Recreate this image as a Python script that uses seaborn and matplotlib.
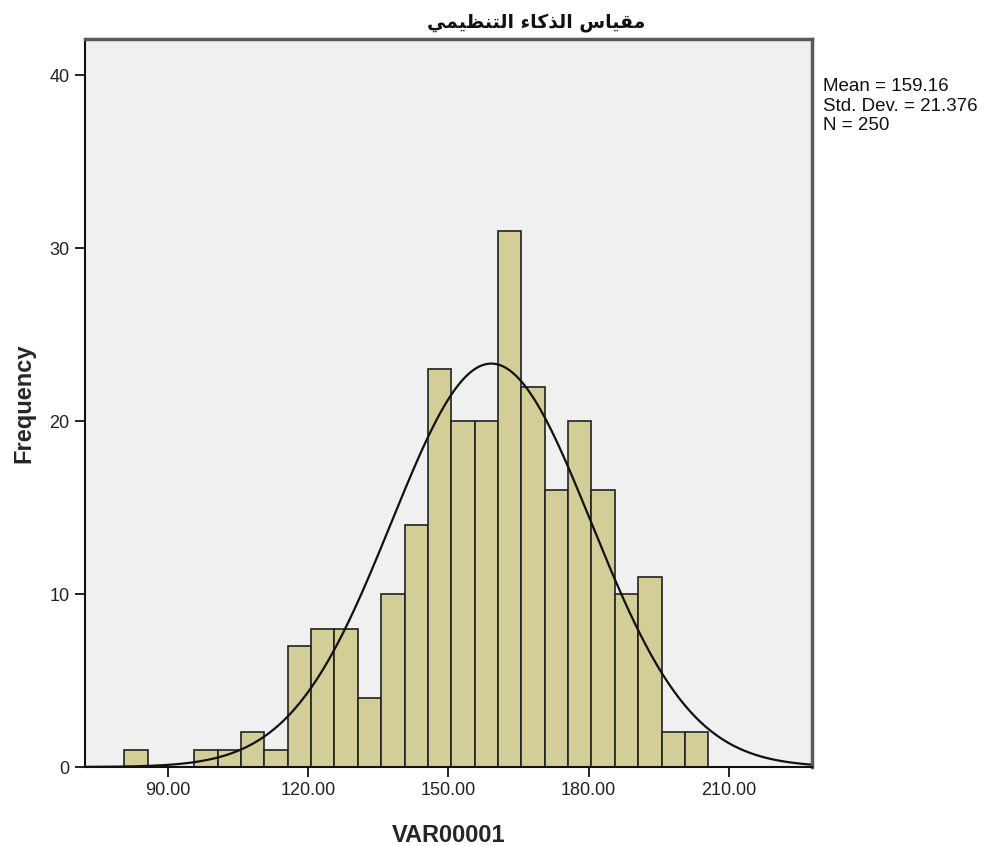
import numpy as np
import pandas as pd
import matplotlib
matplotlib.use('Agg')
import matplotlib.pyplot as plt
import seaborn as sns

# bin edges (width 5, SPSS starts them at ~80.6) and counts
bin_start = 80.6
bin_width = 5
counts = [1, 0, 0, 1, 1, 2, 1, 7, 8, 8, 4, 10, 14, 23, 20, 20, 31, 22, 16, 20, 16, 10, 11, 2, 2]
bin_edges = [bin_start + bin_width * i for i in range(len(counts) + 1)]

mean_val = 159.16
std_val = 21.376
n_val = 250

title_ar = "مقياس الذكاء التنظيمي"
x_label = "VAR00001"
y_label = "Frequency"
x_ticks = [90, 120, 150, 180, 210]
y_ticks = [0, 10, 20, 30, 40]

# matplotlib has no arabic shaping -> pick contextual forms by hand
forms = {
    'م': ('\uFEE1', '\uFEE2', '\uFEE3', '\uFEE4'),
    'ق': ('\uFED5', '\uFED6', '\uFED7', '\uFED8'),
    'ي': ('\uFEF1', '\uFEF2', '\uFEF3', '\uFEF4'),
    'ا': ('\uFE8D', '\uFE8E', None, None),
    'س': ('\uFEB1', '\uFEB2', '\uFEB3', '\uFEB4'),
    'ل': ('\uFEDD', '\uFEDE', '\uFEDF', '\uFEE0'),
    'ذ': ('\uFEAB', '\uFEAC', None, None),
    'ك': ('\uFED9', '\uFEDA', '\uFEDB', '\uFEDC'),
    'ء': ('\uFE80', None, None, None),
    'ت': ('\uFE95', '\uFE96', '\uFE97', '\uFE98'),
    'ن': ('\uFEE5', '\uFEE6', '\uFEE7', '\uFEE8'),
    'ظ': ('\uFEC5', '\uFEC6', '\uFEC7', '\uFEC8'),
}


def shape(text):
    out = []
    for i, ch in enumerate(text):
        if ch not in forms:
            out.append(ch)
            continue
        prev = text[i - 1] if i > 0 else ' '
        nxt = text[i + 1] if i + 1 < len(text) else ' '
        j_prev = prev in forms and forms[prev][2] is not None and forms[ch][1] is not None
        j_next = nxt in forms and forms[ch][2] is not None and forms[nxt][1] is not None
        if j_prev and j_next:
            out.append(forms[ch][3])
        elif j_prev:
            out.append(forms[ch][1])
        elif j_next:
            out.append(forms[ch][2])
        else:
            out.append(forms[ch][0])
    return ''.join(out)[::-1]


sns.set_style('white')
plt.rcParams['font.family'] = ['Liberation Sans', 'DejaVu Sans']

fig = plt.figure(figsize=(9.85, 8.46), dpi=100)
ax = fig.add_axes([85 / 985, 1 - 767 / 846, 727 / 985, 728 / 846])
ax.set_facecolor('#F0F0F0')

df = pd.DataFrame({'center': [e + bin_width / 2 for e in bin_edges[:-1]], 'count': counts})
sns.histplot(data=df, x='center', weights='count', bins=bin_edges, ax=ax,
             color='#D3CE97', edgecolor='#222222', linewidth=1.2, alpha=1)

x_lo, x_hi = 72.2, 227.8
xs = np.linspace(x_lo, x_hi, 400)
ys = n_val * bin_width * np.exp(-0.5 * ((xs - mean_val) / std_val) ** 2) / (std_val * np.sqrt(2 * np.pi))
sns.lineplot(x=xs, y=ys, ax=ax, color='#111111', linewidth=1.6)

ax.set_xlim(x_lo, x_hi)
ax.set_ylim(0, 42.1)
ax.set_xticks(x_ticks)
ax.set_xticklabels([f'{v:.2f}' for v in x_ticks], fontsize=13, color='#222222')
ax.set_yticks(y_ticks)
ax.set_yticklabels([str(v) for v in y_ticks], fontsize=13, color='#222222')
ax.tick_params(axis='both', direction='out', length=7, width=1.3, color='#111111',
               bottom=True, left=True, pad=4)

for s in ['left', 'bottom']:
    ax.spines[s].set_color('#111111')
    ax.spines[s].set_linewidth(1.5)
for s in ['top', 'right']:
    ax.spines[s].set_color('#5A5A5A')
    ax.spines[s].set_linewidth(2.5)

ax.set_xlabel(x_label, fontsize=17, fontweight='bold', labelpad=18)
ax.set_ylabel(y_label, fontsize=17, fontweight='bold')
ax.yaxis.set_label_coords((35 - 85) / 727, 0.5)

fig.text(536 / 985, 1 - 23 / 846, shape(title_ar), fontsize=13.5, fontweight='bold',
         family=['DejaVu Sans'], ha='center', va='center', color='#111111')

fig.text(823 / 985, 1 - 78 / 846,
         f'Mean = {mean_val:.2f}\nStd. Dev. = {std_val:.3f}\nN = {n_val}',
         fontsize=13.5, va='top', ha='left', linespacing=1.2, color='#111111')

fig.savefig('out.png', dpi=100, facecolor='white')
